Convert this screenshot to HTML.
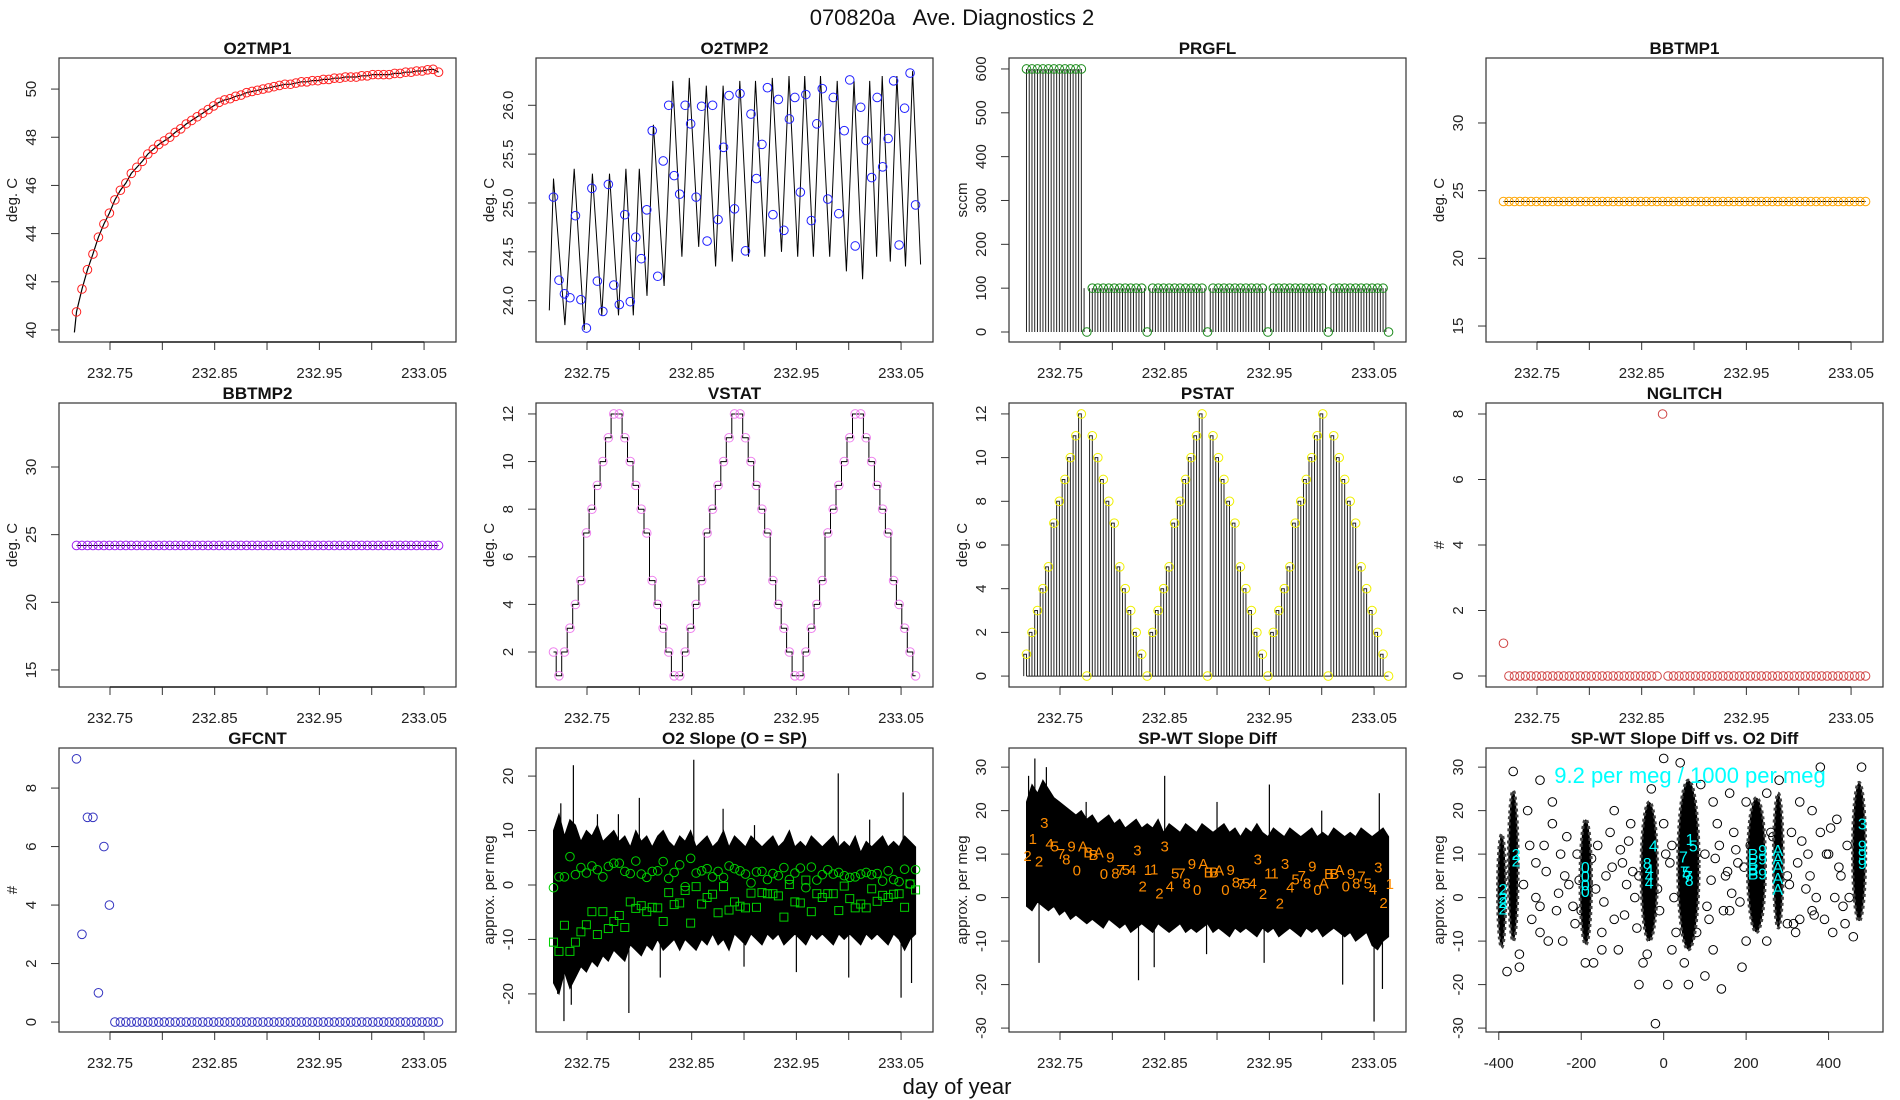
<!DOCTYPE html>
<html><head><meta charset="utf-8"><title>070820a Ave. Diagnostics 2</title>
<style>
html,body{margin:0;padding:0;background:#fff;}
svg{display:block;font-family:"Liberation Sans",Arial,sans-serif;}
</style></head>
<body>
<svg id="fig" width="1900" height="1100" viewBox="0 0 1900 1100" xmlns="http://www.w3.org/2000/svg">
<rect x="0" y="0" width="1900" height="1100" fill="#fff"/>
<text x="952" y="25" font-size="22" text-anchor="middle" fill="#111" xml:space="preserve">070820a   Ave. Diagnostics 2</text>
<text x="957" y="1094" font-size="22" text-anchor="middle" fill="#111">day of year</text>
</svg>
<script>
// ---------- data ----------
const sampleStart = 232.718;
const sampleStep = 0.00524;
const timeTicks = [232.75,232.80,232.85,232.90,232.95,233.00,233.05];
const timeTickLabels = ["232.75","","232.85","","232.95","","233.05"];

const o2tmp1Values = [40.75,41.7,42.5,43.15,43.85,44.4,44.85,45.4,45.8,46.1,46.5,46.75,47.0,47.3,47.5,47.7,47.85,48.0,48.2,48.35,48.55,48.7,48.85,49.0,49.15,49.3,49.45,49.55,49.6,49.7,49.75,49.85,49.9,49.95,50.0,50.05,50.1,50.15,50.2,50.2,50.25,50.3,50.3,50.35,50.35,50.4,50.4,50.45,50.45,50.5,50.5,50.5,50.55,50.55,50.6,50.6,50.6,50.6,50.65,50.65,50.7,50.7,50.75,50.75,50.8,50.82,50.7];
const o2tmp1LineStart = 39.9;
const o2tmp2Values = [25.06,24.21,24.07,24.03,24.87,24.01,23.72,25.15,24.20,23.89,25.19,24.16,23.96,24.88,23.99,24.65,24.43,24.93,25.74,24.25,25.43,26.00,25.28,25.09,26.00,25.81,25.06,25.99,24.61,26.00,24.83,25.57,26.10,24.94,26.12,24.51,25.91,25.25,25.60,26.18,24.88,26.06,24.72,25.86,26.08,25.11,26.11,24.82,25.81,26.17,25.04,26.08,24.89,25.74,26.26,24.56,25.98,25.64,25.26,26.08,25.37,25.66,26.25,24.57,25.97,26.33,24.98];
const sawPeakTimes = [232.718,232.7378,232.7552,232.7715,232.7872,232.800,232.8134,232.832,232.8477,232.864,232.880,232.896,232.911,232.927,232.943,232.958,232.973,232.989,233.005,233.020,233.032,233.046,233.061];
const sawPeaks = [25.25,25.35,25.3,25.3,25.35,25.35,25.8,26.25,26.28,26.2,26.2,26.25,26.25,26.28,26.3,26.3,26.3,26.25,26.25,26.25,26.3,26.3,26.35];
const sawTroughs = [23.75,23.7,23.85,23.85,23.85,24.05,24.15,24.45,24.55,24.35,24.4,24.45,24.45,24.5,24.45,24.45,24.45,24.3,24.22,24.45,24.4,24.35,24.37];
const sawStartValue = 23.9;

const prgflValues = [600,600,600,600,600,600,600,600,600,600,600,0,100,100,100,100,100,100,100,100,100,100,0,100,100,100,100,100,100,100,100,100,100,0,100,100,100,100,100,100,100,100,100,100,0,100,100,100,100,100,100,100,100,100,100,0,100,100,100,100,100,100,100,100,100,100,0];
const bbtmp1Values = [24.2,24.2,24.2,24.2,24.2,24.2,24.2,24.2,24.2,24.2,24.2,24.2,24.2,24.2,24.2,24.2,24.2,24.2,24.2,24.2,24.2,24.2,24.2,24.2,24.2,24.2,24.2,24.2,24.2,24.2,24.2,24.2,24.2,24.2,24.2,24.2,24.2,24.2,24.2,24.2,24.2,24.2,24.2,24.2,24.2,24.2,24.2,24.2,24.2,24.2,24.2,24.2,24.2,24.2,24.2,24.2,24.2,24.2,24.2,24.2,24.2,24.2,24.2,24.2,24.2,24.2,24.2];
const bbtmp2Values = [24.2,24.2,24.2,24.2,24.2,24.2,24.2,24.2,24.2,24.2,24.2,24.2,24.2,24.2,24.2,24.2,24.2,24.2,24.2,24.2,24.2,24.2,24.2,24.2,24.2,24.2,24.2,24.2,24.2,24.2,24.2,24.2,24.2,24.2,24.2,24.2,24.2,24.2,24.2,24.2,24.2,24.2,24.2,24.2,24.2,24.2,24.2,24.2,24.2,24.2,24.2,24.2,24.2,24.2,24.2,24.2,24.2,24.2,24.2,24.2,24.2,24.2,24.2,24.2,24.2,24.2,24.2];
const vstatValues = [2,1,2,3,4,5,7,8,9,10,11,12,12,11,10,9,8,7,5,4,3,2,1,1,2,3,4,5,7,8,9,10,11,12,12,11,10,9,8,7,5,4,3,2,1,1,2,3,4,5,7,8,9,10,11,12,12,11,10,9,8,7,5,4,3,2,1];
const pstatValues = [1,2,3,4,5,7,8,9,10,11,12,0,11,10,9,8,7,5,4,3,2,1,0,2,3,4,5,7,8,9,10,11,12,0,11,10,9,8,7,5,4,3,2,1,0,2,3,4,5,7,8,9,10,11,12,0,11,10,9,8,7,5,4,3,2,1,0];
const nglitchValues = [1,0,0,0,0,0,0,0,0,0,0,0,0,0,0,0,0,0,0,0,0,0,0,0,0,0,0,0,0,8,0,0,0,0,0,0,0,0,0,0,0,0,0,0,0,0,0,0,0,0,0,0,0,0,0,0,0,0,0,0,0,0,0,0,0,0,0];
const gfcntValues = [9,3,7,7,1,6,4,0,0,0,0,0,0,0,0,0,0,0,0,0,0,0,0,0,0,0,0,0,0,0,0,0,0,0,0,0,0,0,0,0,0,0,0,0,0,0,0,0,0,0,0,0,0,0,0,0,0,0,0,0,0,0,0,0,0,0,0];

const o2CircleValues = [-0.5,1.5,1.5,5.2,1.9,3.2,2.2,3.5,2.8,1.5,3.4,4.0,4.0,2.5,2.1,4.4,2.0,1.4,2.5,2.6,4.3,1.2,2.3,3.7,-0.3,4.9,2.2,2.6,3.0,1.5,2.5,1.4,3.5,3.0,2.6,2.0,0.4,2.4,2.5,1.0,2.1,1.7,3.2,1.0,2.2,3.1,-0.5,3.3,0.9,1.9,2.8,2.0,2.3,1.7,1.4,1.5,2.0,2.3,1.9,2.1,0.7,2.6,1.0,0.6,2.9,0.2,2.8];
const o2SquareValues = [-10.5,-12.2,-7.4,-12.2,-10.5,-8.6,-7.3,-4.9,-9.1,-4.9,-8.0,-6.7,-5.6,-7.8,-3.1,-4.3,-3.8,-4.9,-4.1,-4.2,-6.7,-1.4,-3.6,-3.3,-1.0,-7.0,-0.3,-3.5,-2.3,-1.7,-5.1,-0.3,-4.6,-3.1,-3.9,-4.2,-1.5,-4.1,-1.4,-1.6,-1.6,-2.0,-5.9,0.1,-3.1,-3.3,0.9,-4.9,-1.6,-2.3,-1.6,-1.6,-4.7,-0.2,-2.5,-4.2,-3.5,-4.2,-0.7,-3.0,-1.9,-2.3,-1.7,-1.6,-4.1,0.2,-0.9];
const o2BandHi = [10,13,9,12,11,8,10,9,11,8,9,10,8,9,7,10,8,9,7,9,10,8,7,9,8,10,7,8,9,7,8,10,7,9,8,7,9,8,7,8,9,7,8,10,7,8,7,9,8,7,8,9,7,8,7,9,6,8,7,8,9,7,8,7,9,8,7];
const o2BandLo = [-18,-20,-16,-19,-17,-15,-16,-14,-15,-13,-14,-12,-13,-14,-11,-12,-13,-11,-12,-10,-12,-11,-10,-12,-10,-11,-12,-10,-11,-9,-11,-10,-12,-9,-10,-11,-9,-10,-11,-9,-10,-9,-11,-10,-9,-10,-11,-9,-10,-9,-10,-11,-9,-10,-9,-10,-11,-9,-10,-9,-10,-11,-9,-10,-12,-10,-9];
const o2SpikeTimes = [232.722,232.725,232.728,232.735,232.737,232.76,232.78,232.79,232.80,232.82,232.852,232.88,232.90,232.91,232.95,232.99,233.0,233.02,233.05,233.052,233.06];
const o2SpikeValues = [-20,15,-25,-22,22,13,13,-23.5,16,-17,23,14,-15,11,-16,20.5,-17,12,-20.7,17,-18];
const spwtBandHi = [22,26,24,27,25,23,22,21,20,19,20,18,19,17,18,19,17,18,16,17,18,16,17,16,18,15,17,16,15,17,16,15,17,16,15,16,17,15,16,14,16,15,17,15,14,16,15,14,16,15,14,15,16,14,15,14,16,15,14,15,14,16,15,14,15,16,14];
const spwtBandLo = [-2,-3,-1,-2,-3,-2,-4,-3,-5,-4,-5,-6,-5,-6,-7,-5,-6,-7,-6,-8,-7,-6,-7,-8,-6,-7,-8,-7,-6,-8,-7,-8,-7,-6,-8,-7,-8,-9,-7,-8,-7,-8,-9,-7,-8,-7,-9,-8,-7,-8,-9,-7,-8,-7,-9,-8,-7,-8,-9,-8,-10,-9,-8,-11,-12,-10,-9];
const spwtSpikeTimes = [232.72,232.726,232.73,232.737,232.775,232.825,232.84,232.85,232.89,232.90,232.945,232.95,233.0,233.02,233.05,233.055,233.058];
const spwtSpikeValues = [28,32,-15,30,22,-19,-16,28,-13,22,-15,26,20,-20,-28.5,24,-21];
const spwtLabelTimes = [232.719,232.724,232.730,232.735,232.740,232.745,232.751,232.756,232.761,232.766,232.772,232.777,232.782,232.787,232.792,232.798,232.803,232.808,232.813,232.819,232.824,232.829,232.834,232.840,232.845,232.850,232.855,232.860,232.866,232.871,232.876,232.881,232.887,232.892,232.897,232.902,232.908,232.913,232.918,232.923,232.928,232.934,232.939,232.944,232.949,232.955,232.960,232.965,232.970,232.975,232.981,232.986,232.991,232.996,233.002,233.007,233.012,233.017,233.023,233.028,233.033,233.038,233.044,233.049,233.054,233.059,233.065];
const spwtLabelValues = [9.6,13.5,8.3,17.1,12.3,11.8,10,8.8,11.8,6.2,11.7,10.4,9.8,10.4,5.4,9.2,5.6,6.3,6.3,6.3,10.8,2.5,6.3,6.5,0.9,11.8,2.5,5.5,5.5,3.2,7.7,1.7,7.7,5.8,5.8,6.2,1.7,6.3,3.5,3.1,3.2,3.2,8.8,0.8,5.5,5.5,-1.3,7.7,2.3,4.2,5,3.2,7.2,1.7,3.2,5.4,5.4,6.4,2.5,5.4,3.2,4.8,3.2,1.9,6.9,-1.2,3.1];
const spwtLabelText = ["2","1","2","3","4","5","7","8","9","0","A","B","B","A","0","9","8","7","5","4","3","2","1","1","2","3","4","5","7","8","9","0","A","B","B","A","0","9","8","7","5","4","3","2","1","1","2","3","4","5","7","8","9","0","A","B","B","A","0","9","8","7","5","4","3","2","1"];

const clusterX = [-393,-365,-189,-35,60,225,278,474];
const clusterHalfWidth = [10,12,14,20,26,22,12,16];
const clusterLo = [-11.5,-10,-10.8,-10,-12,-8,-7,-5.4];
const clusterHi = [14.6,24.6,18,22,27,23,24,26.5];
const scatterX = [-300,-270,-250,-230,-280,-320,-310,-260,-240,-290,-330,-350,-300,-220,-210,-160,-140,-120,-100,-130,-110,-90,-150,-80,-70,-60,-170,-20,-10,10,20,0,30,-30,100,120,140,130,150,110,160,180,170,190,120,100,200,210,250,260,300,320,310,330,350,360,370,380,390,400,420,410,430,440,450,380,360,330,300,280,250,40,50,80,-50,-190,-150,-200,-350,-380,-365,-310,-270,-245,0,20,-120,90,160,200,-60,-40,60,460,480,-340,-325,-300,-285,-255,-235,-215,-205,-175,-165,-145,-125,-105,-95,-85,-75,-65,-15,5,15,25,105,115,125,135,145,155,165,175,185,195,265,305,315,325,335,345,355,365,395,405,415,425,435,445];
const scatterY = [27,17,10,3,-10,-5,8,-3,5,12,20,-13,-8,-2,10,12,5,-5,8,15,-12,3,-8,17,0,-20,-15,-29,-3,-20,12,17,-8,25,10,-12,-21,17,5,-5,-3,8,15,-16,22,-18,-10,12,-10,15,5,-8,15,22,10,-3,0,15,-5,10,18,-8,5,-6,0,30,20,-5,-6,27,24,31,-15,-8,-15,-15,-12,-3,-16,-17,29,0,22,-10,32,-12,20,26,24,22,5,-13,-20,-9,30,3,12,-2,6,1,14,-6,4,9,2,-1,7,11,-4,13,6,-7,2,10,8,0,-2,4,9,12,-3,6,1,11,-1,7,14,3,-6,8,13,2,5,-4,10,16,0,7,-2,12,6,-3,9];
const cyanX = [-390,-390,-390,-390,-358,-358,-190,-190,-190,-190,-25,-40,-35,-35,-35,64,72,48,50,55,60,62,217,217,217,217,240,240,240,277,277,277,277,277,482,482,482,482];
const cyanY = [2,0,-1,-2.5,10,8.5,7,5,3,1.5,12,8,6.5,5,3.5,13.5,12,9.5,6,6,5,4,10,8,6.5,5.5,11,9,5.5,11,9,7,4.5,2,17,12,10,8];
const cyanText = ["2","2","2","2","2","2","0","0","0","0","4","8","4","4","4","1","5","7","7","5","7","8","B","B","B","B","9","9","9","A","A","A","A","A","3","9","9","9"];

// ---------- layout ----------
const NS = "http://www.w3.org/2000/svg";
const svg = document.getElementById("fig");
const COLX = [59,536,1009,1486], ROWY = [58,403,748], PW = 397, PH = 284;
const TIME_DOMAIN = [232.7013,233.0805];

function el(tag, attrs, parent, name){
  const e = document.createElementNS(NS, tag);
  for (const k in attrs) e.setAttribute(k, attrs[k]);
  
  
  (parent || svg).appendChild(e);
  return e;
}
function txt(x, y, s, attrs, parent, name){
  const t = el('text', Object.assign({x:x, y:y}, attrs), parent, name);
  t.textContent = s;
  return t;
}
function panel(key, col, row, title, ylab, xd, yd, xticks, xlabels, yticks, ylabels){
  const L = COLX[col], T = ROWY[row];
  const g = el('g', {}, svg, key + '-panel');
  const sx = v => L + (v - xd[0]) / (xd[1] - xd[0]) * PW;
  const sy = v => T + PH - (v - yd[0]) / (yd[1] - yd[0]) * PH;
  el('rect', {x:L, y:T, width:PW, height:PH, fill:'none', stroke:'#333', 'stroke-width':1.2}, g, key + '-plot-frame');
  txt(L + PW/2, T - 4, title, {'font-size':17, 'font-weight':'bold', 'text-anchor':'middle', fill:'#111'}, g, key + '-title');
  const xa = el('g', {}, g, key + '-x-axis');
  xticks.forEach((v, i) => {
    el('line', {x1:sx(v), x2:sx(v), y1:T+PH, y2:T+PH+8, stroke:'#333', 'stroke-width':1}, xa, key + '-x-tick');
    if (xlabels[i]) txt(sx(v), T+PH+36, xlabels[i], {'font-size':15, 'text-anchor':'middle', fill:'#222'}, xa, key + '-x-tick-label');
  });
  el('line', {x1:sx(xticks[0]), x2:sx(xticks[xticks.length-1]), y1:T+PH, y2:T+PH, stroke:'#222', 'stroke-width':1.6}, xa, key + '-x-axis-line');
  const ya = el('g', {}, g, key + '-y-axis');
  yticks.forEach((v, i) => {
    el('line', {x1:L-8, x2:L, y1:sy(v), y2:sy(v), stroke:'#333', 'stroke-width':1}, ya, key + '-y-tick');
    txt(0, 0, ylabels[i], {'font-size':15, 'text-anchor':'middle', fill:'#222', transform:'translate(' + (L-23) + ',' + sy(v) + ') rotate(-90)'}, ya, key + '-y-tick-label');
  });
  txt(0, 0, ylab, {'font-size':15, 'text-anchor':'middle', fill:'#222', transform:'translate(' + (L-42) + ',' + (T+PH/2) + ') rotate(-90)'}, g, key + '-y-axis-title');
  return {g, sx, sy, L, T};
}
const tAt = i => sampleStart + i * sampleStep;
function circles(p, vals, color, key){
  const g = el('g', {}, p.g, key + '-points');
  vals.forEach((v, i) => {
    el('circle', {cx:p.sx(tAt(i)), cy:p.sy(v), r:4.3, fill:'none', stroke:color, 'stroke-width':1}, g, key + '-point');
  });
}
function polyline(p, ts, vs, attrs, key){
  const pts = ts.map((t, i) => p.sx(t).toFixed(1) + ',' + p.sy(vs[i]).toFixed(1)).join(' ');
  return el('polyline', Object.assign({points:pts, fill:'none'}, attrs), p.g, key);
}
const seq = (a, b, s) => { const r = []; for (let v = a; v <= b + 1e-9; v += s) r.push(+v.toFixed(6)); return r; };

// ---------- O2TMP1 ----------
{
  const p = panel('o2tmp1', 0, 0, 'O2TMP1', 'deg. C', TIME_DOMAIN, [39.50,51.29], timeTicks, timeTickLabels, seq(40,50,2), ['40','42','44','46','48','50']);
  polyline(p, [sampleStart - 0.002].concat(o2tmp1Values.map((v,i)=>tAt(i))), [o2tmp1LineStart].concat(o2tmp1Values), {stroke:'#000','stroke-width':1.2}, 'o2tmp1-line');
  circles(p, o2tmp1Values, '#ff2020', 'o2tmp1');
}
// ---------- O2TMP2 ----------
{
  const p = panel('o2tmp2', 1, 0, 'O2TMP2', 'deg. C', TIME_DOMAIN, [23.577,26.484], timeTicks, timeTickLabels, [24,24.5,25,25.5,26], ['24.0','24.5','25.0','25.5','26.0']);
  const ts = [sampleStart - 0.004], vs = [sawStartValue];
  sawPeakTimes.forEach((t, i) => {
    ts.push(t); vs.push(sawPeaks[i]);
    const nt = i + 1 < sawPeakTimes.length ? sawPeakTimes[i+1] : t + 0.014;
    ts.push(t + (nt - t) * 0.55); vs.push(sawTroughs[i]);
  });
  polyline(p, ts, vs, {stroke:'#000','stroke-width':1}, 'o2tmp2-line');
  circles(p, o2tmp2Values, '#2020ff', 'o2tmp2');
}
// ---------- PRGFL ----------
{
  const p = panel('prgfl', 2, 0, 'PRGFL', 'sccm', TIME_DOMAIN, [-22.8,625], timeTicks, timeTickLabels, seq(0,600,100), ['0','100','200','300','400','500','600']);
  const g = el('g', {}, p.g, 'prgfl-stems');
  prgflValues.forEach((v, i) => {
    const t = tAt(i);
    if (v > 0) el('line', {x1:p.sx(t), x2:p.sx(t), y1:p.sy(0), y2:p.sy(v), stroke:'#222','stroke-width':1}, g, 'prgfl-stem');
    const nv = i + 1 < prgflValues.length ? prgflValues[i+1] : 0;
    const mv = Math.min(v > 0 ? v : 100, nv > 0 ? nv : 100);
    if (i + 1 < prgflValues.length) {
      const tm = t + sampleStep / 2;
      el('line', {x1:p.sx(tm), x2:p.sx(tm), y1:p.sy(0), y2:p.sy(mv), stroke:'#222','stroke-width':1}, g, 'prgfl-stem');
    }
  });
  circles(p, prgflValues, '#1a8a1a', 'prgfl');
}
// ---------- BBTMP1 ----------
{
  const p = panel('bbtmp1', 3, 0, 'BBTMP1', 'deg. C', TIME_DOMAIN, [13.82,34.8], timeTicks, timeTickLabels, [15,20,25,30], ['15','20','25','30']);
  polyline(p, bbtmp1Values.map((v,i)=>tAt(i)), bbtmp1Values, {stroke:'#000','stroke-width':1}, 'bbtmp1-line');
  circles(p, bbtmp1Values, '#ffa500', 'bbtmp1');
}
// ---------- BBTMP2 ----------
{
  const p = panel('bbtmp2', 0, 1, 'BBTMP2', 'deg. C', TIME_DOMAIN, [13.74,34.73], timeTicks, timeTickLabels, [15,20,25,30], ['15','20','25','30']);
  polyline(p, bbtmp2Values.map((v,i)=>tAt(i)), bbtmp2Values, {stroke:'#000','stroke-width':1}, 'bbtmp2-line');
  circles(p, bbtmp2Values, '#a020f0', 'bbtmp2');
}
// ---------- VSTAT ----------
{
  const p = panel('vstat', 1, 1, 'VSTAT', 'deg. C', TIME_DOMAIN, [0.53,12.46], timeTicks, timeTickLabels, seq(2,12,2), ['2','4','6','8','10','12']);
  const ts = [], vs = [];
  vstatValues.forEach((v, i) => {
    ts.push(tAt(i)); vs.push(v);
    if (i + 1 < vstatValues.length) { ts.push(tAt(i) + sampleStep*0.5); vs.push(v); ts.push(tAt(i) + sampleStep*0.5); vs.push(vstatValues[i+1]); }
  });
  polyline(p, ts, vs, {stroke:'#000','stroke-width':1}, 'vstat-step-line');
  circles(p, vstatValues, '#ee82ee', 'vstat');
}
// ---------- PSTAT ----------
{
  const p = panel('pstat', 2, 1, 'PSTAT', 'deg. C', TIME_DOMAIN, [-0.5,12.5], timeTicks, timeTickLabels, seq(0,12,2), ['0','2','4','6','8','10','12']);
  const g = el('g', {}, p.g, 'pstat-stems');
  pstatValues.forEach((v, i) => {
    if (v <= 0) return;
    const t = tAt(i), t0 = t - sampleStep*0.5;
    el('polyline', {points: p.sx(t0)+','+p.sy(0)+' '+p.sx(t0)+','+p.sy(v)+' '+p.sx(t)+','+p.sy(v)+' '+p.sx(t)+','+p.sy(0), fill:'none', stroke:'#222','stroke-width':1}, g, 'pstat-stem');
  });
  el('line', {x1:p.sx(tAt(0)), x2:p.sx(tAt(pstatValues.length-1)), y1:p.sy(0), y2:p.sy(0), stroke:'#222','stroke-width':1}, g, 'pstat-baseline');
  circles(p, pstatValues, '#f0f000', 'pstat');
}
// ---------- NGLITCH ----------
{
  const p = panel('nglitch', 3, 1, 'NGLITCH', '#', TIME_DOMAIN, [-0.336,8.336], timeTicks, timeTickLabels, seq(0,8,2), ['0','2','4','6','8']);
  circles(p, nglitchValues, '#d04545', 'nglitch');
}
// ---------- GFCNT ----------
{
  const p = panel('gfcnt', 0, 2, 'GFCNT', '#', TIME_DOMAIN, [-0.34,9.37], timeTicks, timeTickLabels, seq(0,8,2), ['0','2','4','6','8']);
  circles(p, gfcntValues, '#3535c0', 'gfcnt');
}
function band(p, hi, lo, spT, spV, key){
  const n = Math.min(hi.length, lo.length);
  const up = [], dn = [];
  for (let i = 0; i < n; i++) {
    up.push(p.sx(tAt(i)).toFixed(1) + ',' + p.sy(hi[i]).toFixed(1));
    dn.unshift(p.sx(tAt(i)).toFixed(1) + ',' + p.sy(lo[i]).toFixed(1));
  }
  el('polygon', {points:up.concat(dn).join(' '), fill:'#000', stroke:'#000', 'stroke-width':1}, p.g, key + '-noise-band');
  const g = el('g', {}, p.g, key + '-spikes');
  spT.forEach((t, i) => {
    el('line', {x1:p.sx(t), x2:p.sx(t), y1:p.sy(0), y2:p.sy(spV[i]), stroke:'#000','stroke-width':1.2}, g, key + '-spike');
  });
}
// ---------- O2 Slope ----------
{
  const p = panel('o2slope', 1, 2, 'O2 Slope (O = SP)', 'approx. per meg', TIME_DOMAIN, [-27.0,25.16], timeTicks, timeTickLabels, [-20,-10,0,10,20], ['-20','-10','0','10','20']);
  band(p, o2BandHi, o2BandLo, o2SpikeTimes, o2SpikeValues, 'o2slope');
  circles(p, o2CircleValues, '#00d000', 'o2slope-circle');
  const g = el('g', {}, p.g, 'o2slope-square-points');
  o2SquareValues.forEach((v, i) => {
    el('rect', {x:p.sx(tAt(i))-4, y:p.sy(v)-4, width:8, height:8, fill:'none', stroke:'#00d000','stroke-width':1}, g, 'o2slope-square');
  });
}
// ---------- SP-WT Slope Diff ----------
{
  const p = panel('spwt', 2, 2, 'SP-WT Slope Diff', 'approx. per meg', TIME_DOMAIN, [-30.9,34.4], timeTicks, timeTickLabels, [-30,-20,-10,0,10,20,30], ['-30','-20','-10','0','10','20','30']);
  band(p, spwtBandHi, spwtBandLo, spwtSpikeTimes, spwtSpikeValues, 'spwt');
  const g = el('g', {}, p.g, 'spwt-labels');
  spwtLabelText.forEach((s, i) => {
    txt(p.sx(spwtLabelTimes[i]), p.sy(spwtLabelValues[i]) + 5, s, {'font-size':15, 'text-anchor':'middle', fill:'#ff8c00'}, g, 'spwt-point-label');
  });
}
// ---------- Scatter ----------
{
  const p = panel('scatter', 3, 2, 'SP-WT Slope Diff vs. O2 Diff', 'approx. per meg', [-431,532], [-30.9,34.4], [-400,-200,0,200,400], ['-400','-200','0','200','400'], [-30,-20,-10,0,10,20,30], ['-30','-20','-10','0','10','20','30']);
  const g = el('g', {}, p.g, 'scatter-points');
  const n = Math.min(scatterX.length, scatterY.length);
  for (let i = 0; i < n; i++) {
    el('circle', {cx:p.sx(scatterX[i]), cy:p.sy(scatterY[i]), r:4.3, fill:'none', stroke:'#000','stroke-width':1}, g, 'scatter-point');
  }
  const cg = el('g', {}, p.g, 'scatter-clusters');
  clusterX.forEach((x, i) => {
    const rx = p.sx(x + clusterHalfWidth[i]) - p.sx(x);
    const cy = (p.sy(clusterHi[i]) + p.sy(clusterLo[i])) / 2;
    const ry = (p.sy(clusterLo[i]) - p.sy(clusterHi[i])) / 2;
    el('ellipse', {cx:p.sx(x), cy:cy, rx:rx, ry:ry, fill:'#000', stroke:'#444', 'stroke-width':3, 'stroke-dasharray':'3 3'}, cg, 'scatter-cluster');
  });
  const lg = el('g', {}, p.g, 'scatter-labels');
  cyanText.forEach((s, i) => {
    txt(p.sx(cyanX[i]), p.sy(cyanY[i]) + 6, s, {'font-size':16, 'text-anchor':'middle', fill:'#00ffff'}, lg, 'scatter-point-label');
  });
  txt(1690, 783, '9.2 per meg / 1000 per meg', {'font-size':22, 'text-anchor':'middle', fill:'#00ffff'}, p.g, 'slope-annotation');
}
</script>
</body></html>
